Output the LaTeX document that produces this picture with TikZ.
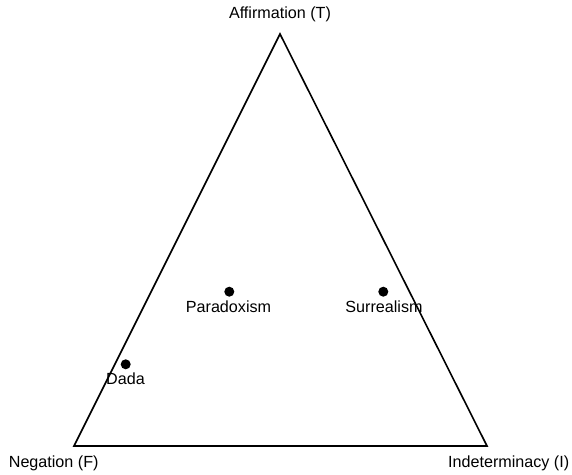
\documentclass[tikz,border=0pt]{standalone}
\usepackage{fontspec}
\setmainfont{Liberation Sans}
\begin{document}
\begin{tikzpicture}[x=1bp,y=-1bp,
  lbl/.style={anchor=base,inner sep=0pt,font=\fontsize{16.2}{19}\selectfont},
  dot/.style={circle,fill=black,inner sep=0pt,minimum size=10bp},
  tri/.style={draw=black,line width=1.6bp,line join=miter}]
\useasboundingbox (0,0) rectangle (572,475);
\coordinate (T) at (280,34);
\coordinate (F) at (74,446);
\coordinate (I) at (487,446);
\draw[tri] (T) -- (F) -- (I) -- cycle;
\node[lbl] (lT) at (280,19) {Affirmation (T)};
\node[lbl] (lF) at (53.7,467.5) {Negation (F)};
\node[lbl] (lI) at (508.7,467.5) {Indeterminacy (I)};
\node[dot] (p) at (229.3,291.7) {};
\node[dot] (s) at (383.3,291.7) {};
\node[dot] (d) at (125.7,364.3) {};
\node[lbl] (lp) at (228.5,312.7) {Paradoxism};
\node[lbl] (ls) at (384,312.7) {Surrealism};
\node[lbl] (ld) at (125.5,384.3) {Dada};
\end{tikzpicture}
\end{document}
